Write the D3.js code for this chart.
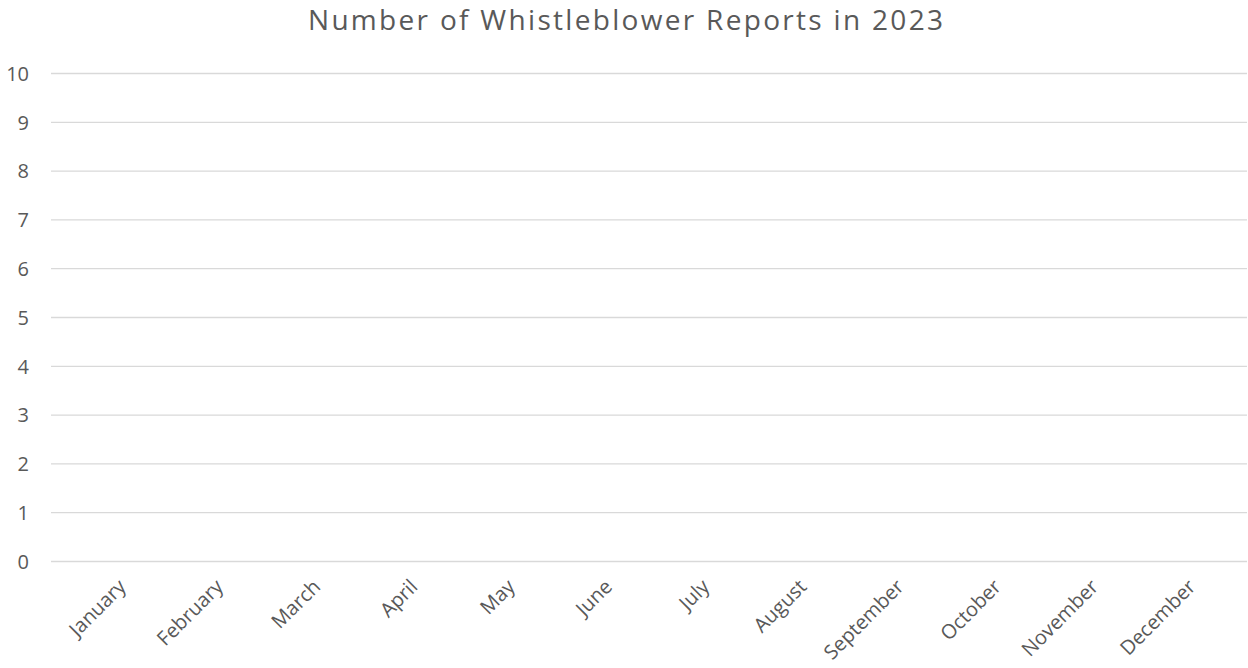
<!DOCTYPE html>
<html>
<head>
<meta charset="utf-8">
<script src="https://cdn.jsdelivr.net/npm/d3@7"></script>
<style>
  html, body { margin: 0; padding: 0; background: #fff; }
  svg { display: block; font-family: "Open Sans", "Noto Sans", sans-serif; }
</style>
</head>
<body>
<svg id="chart" width="1248" height="668"></svg>
<script>
// Months on the category axis
const months = ["January", "February", "March", "April", "May", "June",
  "July", "August", "September", "October", "November", "December"];
// Reports per month (no reports recorded)
const reports = [0, 0, 0, 0, 0, 0, 0, 0, 0, 0, 0, 0];
// Value axis ticks
const yTicks = [0, 1, 2, 3, 4, 5, 6, 7, 8, 9, 10];
const title = "Number of Whistleblower Reports in 2023";

const FONT = '"Open Sans", "Noto Sans", sans-serif';
const svg = d3.select("#chart");
const plot = { left: 51, right: 1247, top: 73, bottom: 561 };

const x = d3.scaleBand().domain(months).range([plot.left, plot.right]).padding(0.3);
const y = d3.scaleLinear().domain([0, 10]).range([plot.bottom, plot.top]);

// Title
svg.append("text")
  .attr("x", 308)
  .attr("y", 30)
  .attr("fill", "#595959")
  .attr("font-size", 28)
  .attr("textLength", 635)
  .attr("lengthAdjust", "spacing")
  .text(title);

// Horizontal gridlines with value labels
const yAxis = d3.axisLeft(y).tickValues(yTicks)
  .tickSize(-(plot.right - plot.left)).tickPadding(22).tickFormat(d3.format("d"));
const gy = svg.append("g").attr("transform", `translate(${plot.left},0)`).call(yAxis)
  .attr("font-family", FONT);
gy.select(".domain").remove();
gy.selectAll(".tick line").attr("stroke", "#d9d9d9").attr("stroke-width", 1.3);
gy.selectAll(".tick text").attr("fill", "#595959").attr("font-size", 20)
  .attr("dy", "0.36em");

// Bars (all zero-height)
svg.append("g").selectAll("rect").data(reports).join("rect")
  .attr("x", (d, i) => x(months[i]))
  .attr("width", x.bandwidth())
  .attr("y", d => y(d))
  .attr("height", d => y(0) - y(d))
  .attr("fill", "#4472c4");

// Month labels, rotated
const xAxis = d3.axisBottom(x).tickSize(0).tickPadding(0);
const gx = svg.append("g").attr("transform", `translate(0,${plot.bottom})`).call(xAxis)
  .attr("font-family", FONT);
gx.select(".domain").remove();
gx.selectAll(".tick text")
  .attr("fill", "#595959")
  .attr("font-size", 20)
  .attr("text-anchor", "end")
  .attr("dy", null)
  .attr("y", null)
  .attr("transform", "translate(13,27) rotate(-45)");
</script>
</body>
</html>
